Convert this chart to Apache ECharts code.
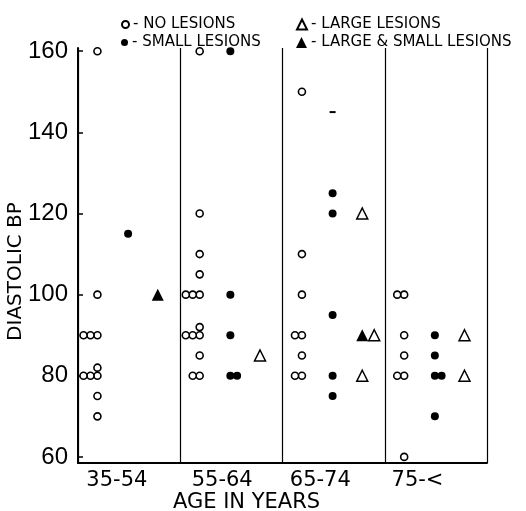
<!DOCTYPE html>
<html>
<head>
<meta charset="utf-8">
<script src="https://cdn.jsdelivr.net/npm/echarts@6/dist/echarts.min.js"></script>
<style>
html,body{margin:0;padding:0;background:#fff;}
#chart{width:526px;height:511px;}
</style>
</head>
<body>
<div id="chart"></div>
<script>
// ---- data ----
var ageGroups = ['35-54', '55-64', '65-74', '75-<'];
var yTicks = [60, 80, 100, 120, 140, 160];

// Diastolic BP values per age group
var noLesions = [
  [160, 100, 90, 90, 90, 82, 80, 80, 80, 75, 70],
  [160, 120, 110, 105, 100, 100, 100, 92, 90, 90, 90, 85, 80, 80],
  [150, 110, 100, 90, 90, 85, 80, 80],
  [100, 100, 90, 85, 80, 80, 60]
];
var smallLesions = [
  [115],
  [160, 100, 90, 80, 80],
  [145, 125, 120, 95, 80, 75],
  [90, 85, 80, 80, 70]
];
var largeLesions = [
  [],
  [85],
  [120, 90, 80],
  [90, 80]
];
var largeSmallLesions = [
  [100],
  [],
  [90],
  []
];
// the 145 mark in 65-74 is printed as a tiny dash
var dashMarks = [[2, 145]];

// ---- layout helpers ----
var COL_OPEN = 0.19, COL_FILLED = 0.49, COL_TRI = 0.78;

function place(groups, col, step, shared) {
  var out = [];
  groups.forEach(function (vals, g) {
    var seen = {};
    vals.forEach(function (v) {
      var key = g + '_' + v;
      var k = seen[v] || 0;
      if (shared) { k = k + (shared[key] || 0); }
      seen[v] = (seen[v] || 0) + 1;
      var item = { value: [g + col + k * step, v] };
      dashMarks.forEach(function (d) {
        if (d[0] === g && d[1] === v && col === COL_FILLED) {
          item.symbol = 'rect';
          item.symbolSize = [6, 2];
        }
      });
      out.push(item);
    });
  });
  return out;
}
function counts(groups) {
  var c = {};
  groups.forEach(function (vals, g) {
    vals.forEach(function (v) { c[g + '_' + v] = (c[g + '_' + v] || 0) + 1; });
  });
  return c;
}

var openData = place(noLesions, COL_OPEN, -0.068);
var filledData = place(smallLesions, COL_FILLED, 0.066);
var triFilledData = place(largeSmallLesions, COL_TRI, 0.117);
var triOpenData = place(largeLesions, COL_TRI, 0.117, counts(largeSmallLesions));

var labelPos = [0.38, 1.41, 2.37, 3.32];

var chart = echarts.init(document.getElementById('chart'), null, { renderer: 'canvas' });
var FONT = 'DejaVu Sans';

function legendAt(name, left, top, size) {
  return {
    data: [name],
    left: left, top: top,
    orient: 'horizontal',
    itemWidth: size, itemHeight: size,
    selectedMode: false,
    formatter: function (n) { return '- ' + n; },
    textStyle: { fontFamily: FONT, fontSize: 15, color: '#000', padding: [0, 0, 0, -1] }
  };
}

chart.setOption({
  animation: false,
  backgroundColor: '#fff',
  legend: [
    legendAt('NO LESIONS', 116, 12, 7),
    legendAt('SMALL LESIONS', 116, 30, 7),
    legendAt('LARGE LESIONS', 291, 12, 10),
    legendAt('LARGE & SMALL LESIONS', 291, 30, 11)
  ],
  grid: { left: 78, right: 39, top: 48, bottom: 48, outerBoundsMode: 'none', containLabel: false },
  xAxis: {
    type: 'value',
    min: 0, max: 4, interval: 1,
    name: 'AGE IN YEARS',
    nameLocation: 'middle',
    nameGap: 29,
    nameMoveOverlap: false,
    nameTextStyle: { fontFamily: FONT, fontSize: 21, color: '#000', padding: [0, 72, 0, 0] },
    axisLine: { show: true, onZero: false, lineStyle: { color: '#000', width: 2 } },
    axisTick: { show: false },
    splitLine: { show: true, lineStyle: { color: '#000', width: 1.2, type: 'solid' } },
    axisLabel: {
      customValues: labelPos,
      margin: 7,
      fontFamily: FONT, fontSize: 21, color: '#000',
      formatter: function (v) { return ageGroups[Math.floor(v)]; }
    }
  },
  yAxis: {
    type: 'value',
    min: 58.5, max: 160.8,
    name: 'DIASTOLIC BP',
    nameLocation: 'middle',
    nameGap: 52,
    nameMoveOverlap: false,
    nameRotate: 90,
    nameTextStyle: { fontFamily: FONT, fontSize: 20, color: '#000', padding: [0, 32, 0, 0] },
    axisLine: { show: true, lineStyle: { color: '#000', width: 2 } },
    axisTick: { show: true, inside: true, length: 5, customValues: yTicks, lineStyle: { color: '#000', width: 1.5 } },
    splitLine: { show: false },
    axisLabel: {
      customValues: yTicks,
      margin: 10,
      fontFamily: 'Liberation Sans', fontSize: 24, color: '#000'
    }
  },
  series: [
    {
      name: 'NO LESIONS', type: 'scatter', data: openData,
      symbol: 'circle', symbolSize: 7,
      itemStyle: { color: '#fff', borderColor: '#000', borderWidth: 1.6, opacity: 1 }
    },
    {
      name: 'SMALL LESIONS', type: 'scatter', data: filledData,
      symbol: 'circle', symbolSize: 8,
      itemStyle: { color: '#000', opacity: 1 }
    },
    {
      name: 'LARGE LESIONS', type: 'scatter', data: triOpenData,
      symbol: 'triangle', symbolSize: 11,
      itemStyle: { color: '#fff', borderColor: '#000', borderWidth: 1.5, opacity: 1 }
    },
    {
      name: 'LARGE & SMALL LESIONS', type: 'scatter', data: triFilledData,
      symbol: 'triangle', symbolSize: 12,
      itemStyle: { color: '#000', opacity: 1 }
    }
  ]
});
</script>
</body>
</html>
